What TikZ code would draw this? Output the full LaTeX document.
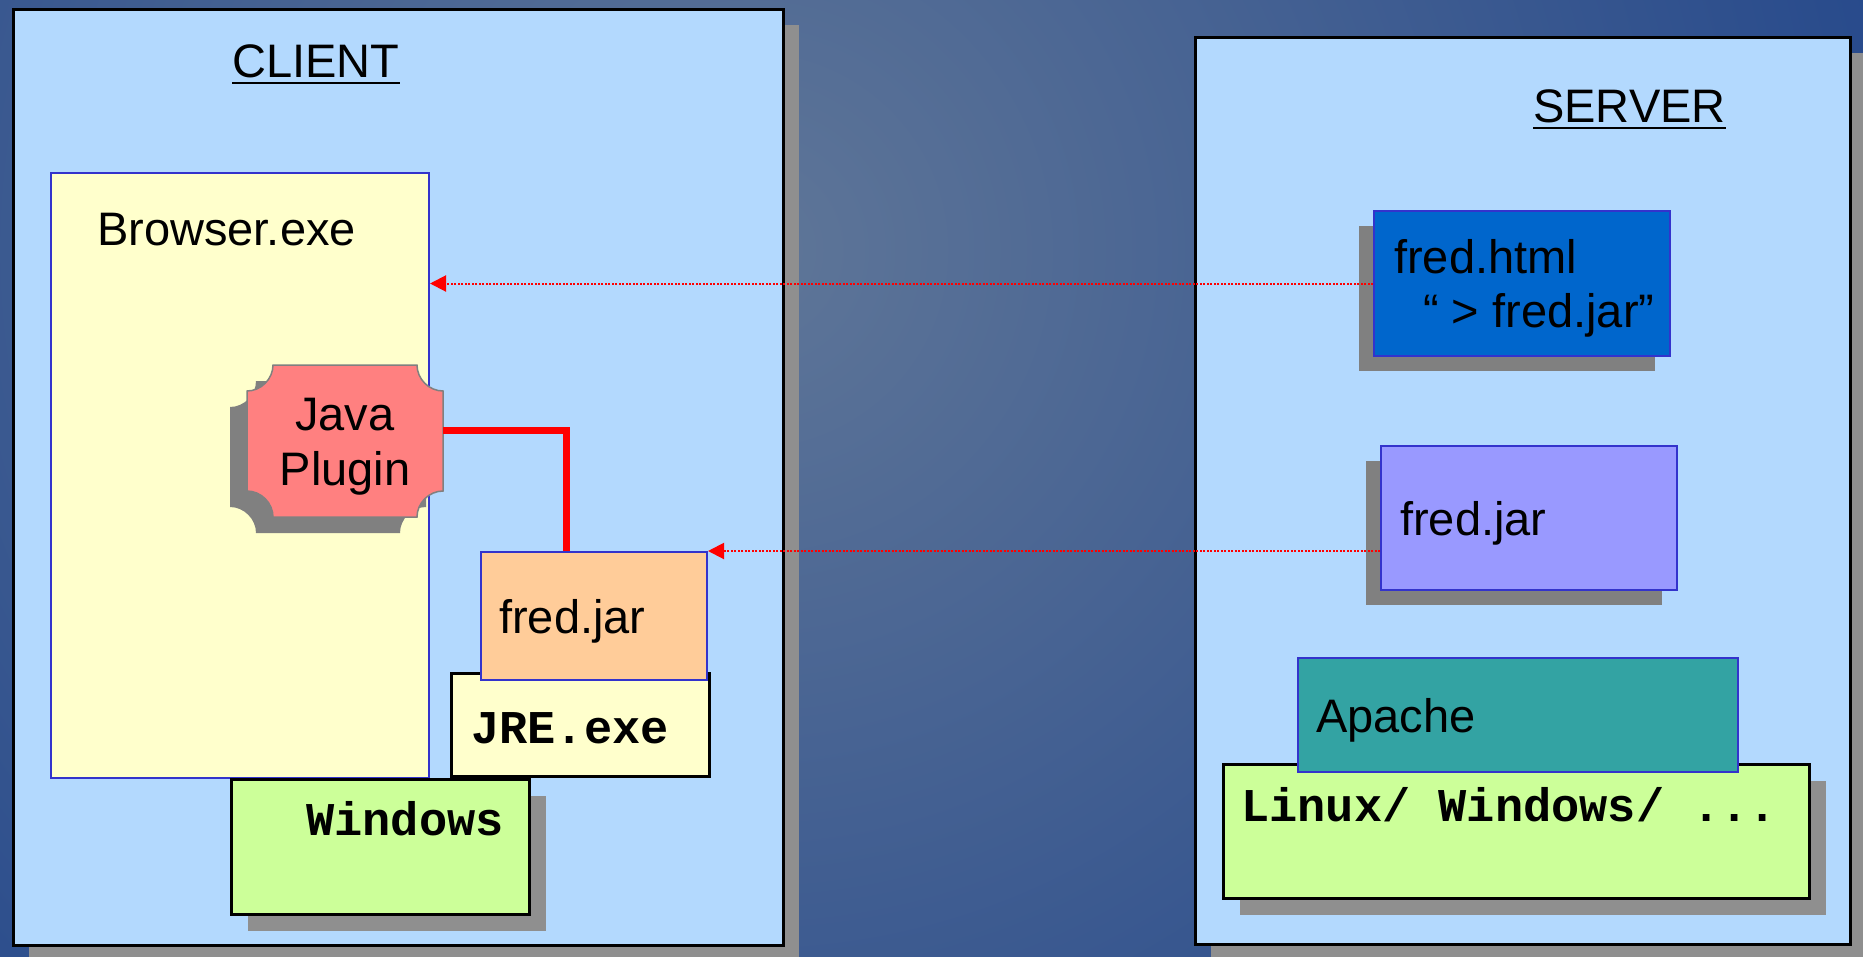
\documentclass[tikz,border=0pt]{standalone}
\usepackage{fontspec}
\setmainfont{Liberation Sans}
\setmonofont{Liberation Mono}
\usetikzlibrary{arrows.meta,shadows}

\definecolor{bgin}{HTML}{5F7698}
\definecolor{bgout}{HTML}{173D88}
\definecolor{paneblue}{HTML}{B3D9FE}
\definecolor{edgeblue}{HTML}{3333CC}
\definecolor{paleyellow}{HTML}{FFFFCC}
\definecolor{plugred}{HTML}{FF8080}
\definecolor{jarorange}{HTML}{FFCC99}
\definecolor{osgreen}{HTML}{CCFF99}
\definecolor{htmlblue}{HTML}{0066CC}
\definecolor{jarviolet}{HTML}{9999FF}
\definecolor{apacheteal}{HTML}{33A3A3}
\definecolor{shadegray}{HTML}{808080}
\definecolor{paneshade}{HTML}{8F8F8F}

\begin{document}
\begin{tikzpicture}[x=1pt, y=-1pt, font=\fontsize{47}{55}\selectfont,
  box/.style={anchor=north west, inner sep=0pt, line width=2pt, draw=edgeblue},
  blackbox/.style={anchor=north west, inner sep=0pt, line width=3pt, draw=black},
  pane/.style={blackbox, fill=paneblue, general shadow={fill=paneshade, shadow xshift=15pt, shadow yshift=-15pt}},
  shadeR/.style={general shadow={fill=paneshade, shadow xshift=16pt, shadow yshift=-16pt}},
  shadeL/.style={general shadow={fill=shadegray, shadow xshift=-15pt, shadow yshift=-15pt}},
  txt/.style={anchor=base west, inner sep=0pt},
  mono/.style={txt, font=\fontsize{47}{55}\selectfont\ttfamily\bfseries},
  fetch/.style={red, line width=2pt, dash pattern=on 2pt off 1.5pt, -{Triangle[length=16pt,width=16pt]}},
  wire/.style={red, line width=7pt}]
  \useasboundingbox (0,0) rectangle (1863,956);
  % background
  \begin{scope}
    \clip (0,0) rectangle (1863,956);
    \shade [inner color=bgin, outer color=bgout] (750,250) circle [radius=1500pt];
  \end{scope}

  % client side
  \node [pane, minimum width=770pt, minimum height=936pt] (client) at (12,8) {};
  \node [txt] (ctitle) at (232,77) {CLIENT};
  \draw [line width=2.5pt] ([yshift=-6pt]ctitle.base west) -- ([yshift=-6pt]ctitle.base east);
  \node [box, fill=paleyellow, minimum width=378pt, minimum height=605pt] (browser) at (50,172) {};
  \node [txt] (browsertext) at (97,245) {Browser.exe};
  \filldraw [draw=shadegray, line width=1.5pt, fill=plugred, general shadow={fill=shadegray, shadow xshift=-17pt, shadow yshift=-16pt}]
    (273,365) -- (417,365) .. controls (417,379) and (429,391) .. (443,391)
    -- (443,491) .. controls (429,491) and (417,503) .. (417,517)
    -- (273,517) .. controls (273,503) and (261,491) .. (247,491)
    -- (247,391) .. controls (261,391) and (273,379) .. (273,365) -- cycle;
  \node [align=center, inner sep=0pt, minimum width=196pt] (plugin) at (345,447) {Java\\Plugin};
  \node [blackbox, fill=paleyellow, minimum width=258pt, minimum height=103pt] (jre) at (450,672) {};
  \node [mono] (jretext) at (471,743) {JRE.exe};
  \node [box, fill=jarorange, minimum width=226pt, minimum height=128pt] (cjar) at (480,551) {};
  \node [txt] (cjartext) at (499,633) {fred.jar};
  \node [blackbox, fill=osgreen, shadeR, minimum width=298pt, minimum height=135pt] (winbox) at (230,778) {};
  \node [mono] (wintext) at (306,835) {Windows};
  \draw [wire] ([yshift=17pt]plugin.east) -| ([xshift=-28pt]cjar.north);

  % server side
  \node [pane, minimum width=655pt, minimum height=907pt] (server) at (1194,36) {};
  \node [txt] (stitle) at (1533,122) {SERVER};
  \draw [line width=2.5pt] ([yshift=-6pt]stitle.base west) -- ([yshift=-6pt]stitle.base east);
  \node [box, fill=htmlblue, shadeL, minimum width=296pt, minimum height=145pt] (fhtml) at (1373,210) {};
  \node [txt] (fhtmltext) at (1394,273) {fred.html};
  \node [txt] (fhtmlref) at (1423,327) {“ > fred.jar”};
  \node [box, fill=jarviolet, shadeL, minimum width=296pt, minimum height=144pt] (sjar) at (1380,445) {};
  \node [txt] (sjartext) at (1400,535) {fred.jar};
  \node [blackbox, fill=osgreen, shadeR, minimum width=586pt, minimum height=134pt] (linux) at (1222,763) {};
  \node [mono] (linuxtext) at (1241,821) {Linux/ Windows/ ...};
  \node [box, fill=apacheteal, minimum width=440pt, minimum height=114pt] (apache) at (1297,657) {};
  \node [txt] (apachetext) at (1316,732) {Apache};

  % downloads
  \draw [fetch] (fhtml.west) -- (fhtml.west -| browser.east);
  \draw [fetch] (sjar.west |- cjar.north east) -- (cjar.north east);
\end{tikzpicture}
\end{document}
